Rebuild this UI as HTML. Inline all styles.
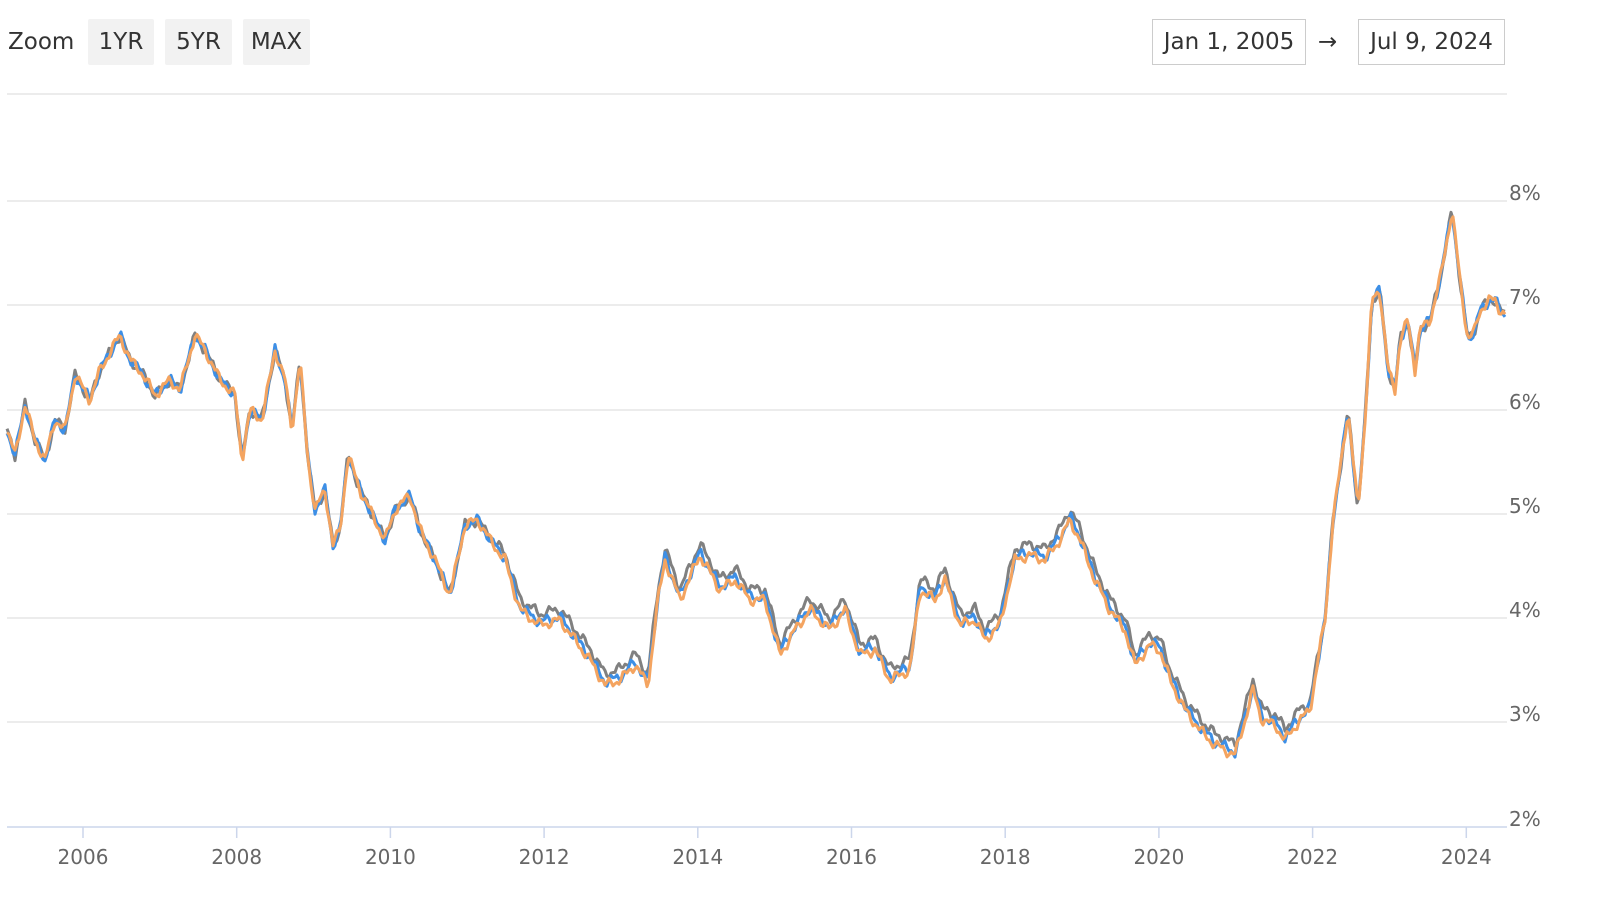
<!DOCTYPE html>
<html><head><meta charset="utf-8"><style>
body{margin:0;background:#fff;width:1600px;height:909px;overflow:hidden;font-family:"DejaVu Sans","Liberation Sans",sans-serif;}
.btn{position:absolute;top:19px;height:46px;background:#f2f2f2;border-radius:2px;font-size:23px;line-height:46px;text-align:center;color:#333}
.date{position:absolute;top:19px;height:44px;border:1.5px solid #ccc;font-size:23px;line-height:44px;text-align:center;color:#333}
</style></head><body>
<div style="position:absolute;left:8px;top:19px;font-size:23px;line-height:46px;color:#333">Zoom</div>
<div class="btn" style="left:88px;width:66px">1YR</div>
<div class="btn" style="left:165px;width:67px">5YR</div>
<div class="btn" style="left:243px;width:67px">MAX</div>
<div class="date" style="left:1152px;width:152px">Jan 1, 2005</div>
<div style="position:absolute;left:1318px;top:19px;font-size:23px;line-height:46px;color:#333">→</div>
<div class="date" style="left:1358px;width:145px">Jul 9, 2024</div>
<svg id="s" width="1600" height="909" style="position:absolute;left:0;top:0" font-family="DejaVu Sans, Liberation Sans, sans-serif"></svg>
<script>
var s=document.getElementById('s'),h='';
h+='<line x1="7" x2="1507" y1="94" y2="94" stroke="#e6e6e6" stroke-width="1.5"/>';
var ys=[201,305,410,514,618,722];
ys.forEach(function(y,i){h+='<line x1="7" x2="1507" y1="'+y+'" y2="'+y+'" stroke="#e6e6e6" stroke-width="1.5"/>';h+='<text x="1509" y="'+(y-1)+'" font-size="20" fill="#666">'+(8-i)+'%</text>';});
h+='<line x1="7" x2="1507" y1="827" y2="827" stroke="#ccd6eb" stroke-width="1.5"/><text x="1509" y="826" font-size="20" fill="#666">2%</text>';
for(var i=0;i<10;i++){var x=83+i*153.7;h+='<line x1="'+x+'" x2="'+x+'" y1="827" y2="838" stroke="#ccd6eb" stroke-width="1.5"/><text x="'+x+'" y="864" font-size="20" fill="#666" text-anchor="middle">'+(2006+2*i)+'</text>';}
var k=[[7,430],[15,455],[25,405],[35,440],[45,460],[55,420],[65,430],[75,375],[90,400],[100,370],[120,335],[130,360],[140,370],[155,395],[170,380],[180,390],[195,335],[205,350],[220,380],[235,395],[242,460],[250,410],[262,420],[275,350],[285,380],[292,430],[300,360],[308,460],[315,510],[325,490],[333,545],[340,530],[348,455],[360,490],[375,520],[385,540],[395,510],[410,495],[420,530],[435,560],[450,595],[465,525],[478,520],[490,540],[505,560],[520,610],[540,625],[560,620],[575,640],[590,660],[605,685],[620,680],[635,665],[648,685],[658,600],[665,560],[680,600],[700,555],[720,590],[735,580],[750,600],[765,600],[780,655],[795,630],[810,610],[830,630],[845,610],[860,655],[875,650],[890,680],[910,670],[920,590],[935,600],[945,580],[960,625],[975,620],[985,640],[1000,625],[1010,580],[1015,560],[1030,555],[1045,560],[1060,540],[1070,520],[1080,540],[1095,580],[1110,610],[1125,630],[1135,665],[1150,645],[1160,650],[1170,680],[1185,710],[1200,730],[1215,745],[1235,755],[1245,720],[1253,690],[1262,720],[1275,725],[1285,740],[1300,720],[1310,710],[1318,660],[1325,620],[1333,520],[1340,470],[1348,410],[1355,480],[1358,510],[1365,420],[1372,300],[1380,290],[1388,370],[1395,390],[1400,340],[1408,320],[1415,370],[1420,330],[1430,320],[1440,280],[1452,210],[1460,280],[1468,340],[1475,330],[1480,310],[1490,300],[1495,300],[1500,310],[1505,315]];
function val(x){for(var i=0;i<k.length-1;i++){if(x<=k[i+1][0]){var t=(x-k[i][0])/(k[i+1][0]-k[i][0]);return k[i][1]+t*(k[i+1][1]-k[i][1]);}}return k[k.length-1][1];}
function off(x){if(x<480)return 0;if(x<520)return -(x-480)/40;if(x<1300)return -1;if(x<1330)return -(1330-x)/30;return 0;}
function path(d,c,seed){var p='';for(var x=7;x<=1506;x+=2){var n=Math.sin(x*0.9+seed)*2.5+Math.sin(x*0.37+seed*2)*3.5;var y=val(x)+d*off(x)+n;p+=(x==7?'M':'L')+x+','+y.toFixed(1);}return '<path d="'+p+'" fill="none" stroke="'+c+'" stroke-width="3" stroke-linejoin="round"/>';}
h+=path(11,'#808080',1)+path(3,'#3d8fe6',2)+path(0,'#f4a460',3);
s.innerHTML=h;
</script>
</body></html>
